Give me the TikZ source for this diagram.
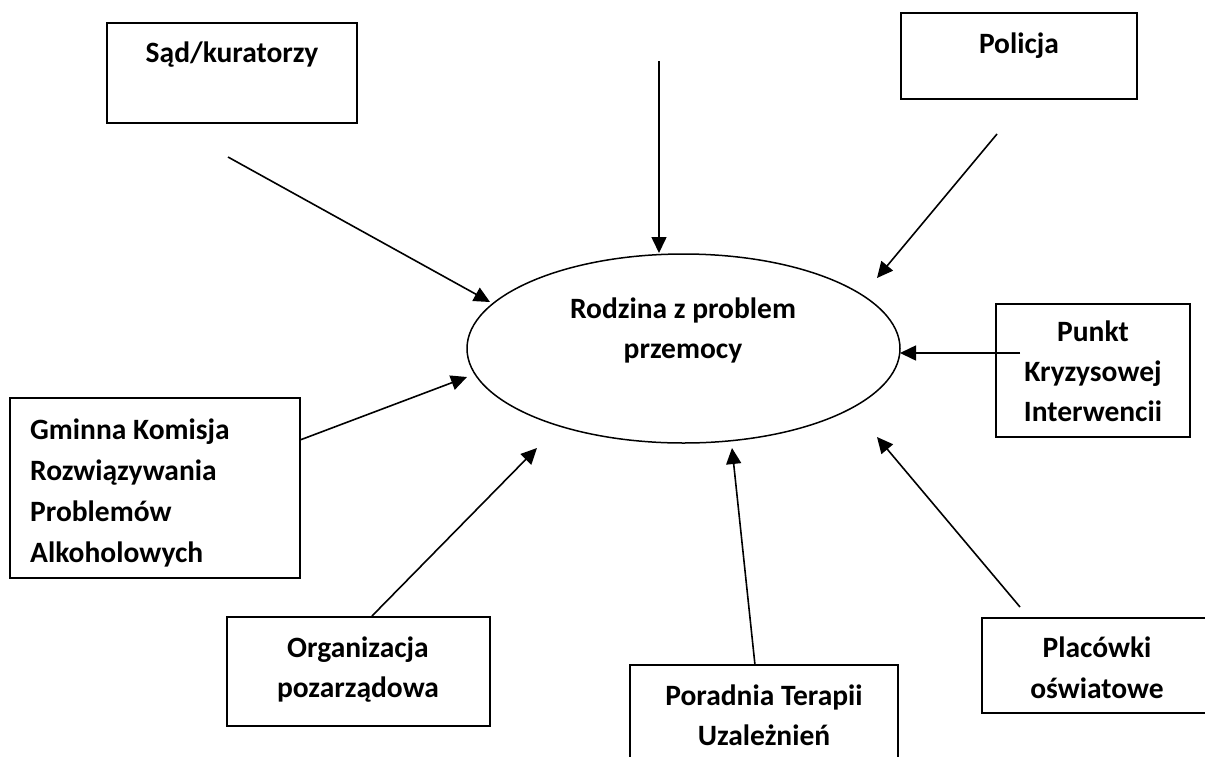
\documentclass[tikz,border=0pt]{standalone}
\usepackage{fontspec}
\setmainfont{Carlito}
\usetikzlibrary{arrows.meta,shapes.geometric}
\begin{document}
\begin{tikzpicture}[x=1pt,y=-1pt,
  box/.style={draw,line width=1.8pt,rectangle,inner sep=0pt},
  oval/.style={draw,line width=1.5pt,ellipse,inner sep=0pt},
  lbl/.style={font=\fontsize{29.5}{40}\selectfont\bfseries,anchor=base,inner sep=0pt},
  lbll/.style={lbl,anchor=base west},
  arr/.style={line width=1.6pt,-{Triangle[length=16pt,width=15pt]}}]
\useasboundingbox (0,0) rectangle (1205,756);
\clip (0,0) rectangle (1205,756);
\fill[white] (0,0) rectangle (1205,756);

% boxes
\node[box,minimum width=250pt,minimum height=100pt] (sad) at (232,73) {};
\node[box,minimum width=236pt,minimum height=86pt] (pol) at (1019,56) {};
\node[box,minimum width=194pt,minimum height=133pt] (pki) at (1093,370.5) {};
\node[box,minimum width=290pt,minimum height=180pt] (gk) at (155,488) {};
\node[box,minimum width=263pt,minimum height=109pt] (org) at (358.5,671.5) {};
\node[box,minimum width=268pt,minimum height=125pt] (por) at (764,727.5) {};
\node[box,minimum width=230pt,minimum height=95pt] (pla) at (1097,665.5) {};
\node[oval,minimum width=433pt,minimum height=189pt] (fam) at (683.5,348.5) {};

% texts
\node[lbl] (tsad) at (232,62) {Sąd/kuratorzy};
\node[lbl] (tpol) at (1019,53) {Policja};
\node[lbl] (tfam1) at (683,318) {Rodzina z problem};
\node[lbl] (tfam2) at (683,358) {przemocy};
\node[lbl] (tpki1) at (1093,341) {Punkt};
\node[lbl] (tpki2) at (1093,381) {Kryzysowej};
\node[lbl] (tpki3) at (1093,421) {Interwencii};
\node[lbll] (tgk1) at (30,439) {Gminna Komisja};
\node[lbll] (tgk2) at (30,480) {Rozwiązywania};
\node[lbll] (tgk3) at (30,521) {Problemów};
\node[lbll] (tgk4) at (30,562) {Alkoholowych};
\node[lbl] (torg1) at (358,657) {Organizacja};
\node[lbl] (torg2) at (358,697) {pozarządowa};
\node[lbl] (tpor1) at (764,705) {Poradnia Terapii};
\node[lbl] (tpor2) at (764,745) {Uzależnień};
\node[lbl] (tpla1) at (1097,657) {Placówki};
\node[lbl] (tpla2) at (1097,698) {oświatowe};

% connector ends
\coordinate (s1) at (228,157);  \coordinate (e1) at (490,302);
\coordinate (s2) at (659,61);   \coordinate (e2) at (659,253);
\coordinate (s3) at (997,134);  \coordinate (e3) at (877,278);
\coordinate (s4) at (1020,353); \coordinate (e4) at (900,353);
\coordinate (s5) at (300,440);  \coordinate (e5) at (467,377);
\coordinate (s6) at (372,616);  \coordinate (e6) at (537,448);
\coordinate (s7) at (755,665);  \coordinate (e7) at (732,448);
\coordinate (s8) at (1020,607); \coordinate (e8) at (877,437);

\draw[arr] (s1) -- (e1);
\draw[arr] (s2) -- (e2);
\draw[arr] (s3) -- (e3);
\draw[arr] (s4) -- (e4);
\draw[arr] (s5) -- (e5);
\draw[arr] (s6) -- (e6);
\draw[arr] (s7) -- (e7);
\draw[arr] (s8) -- (e8);
\end{tikzpicture}
\end{document}
